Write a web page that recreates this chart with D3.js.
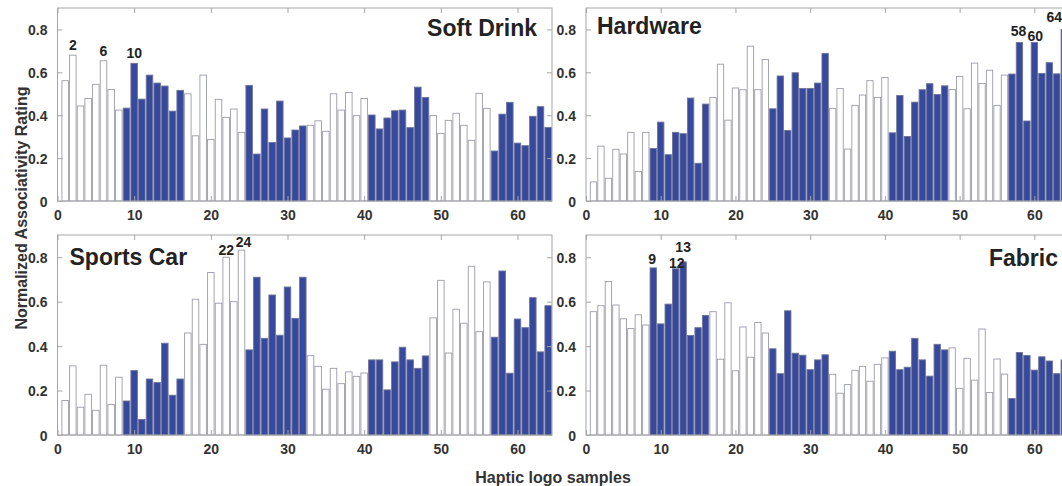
<!DOCTYPE html>
<html>
<head>
<meta charset="utf-8">
<script src="https://cdn.jsdelivr.net/npm/d3@7"></script>
<style>
  body { margin: 0; background: #fff; }
  svg text { font-family: "Liberation Sans", Arial, sans-serif; font-weight: bold; }
</style>
</head>
<body>
<svg width="1062" height="486"></svg>
<script>
// haptic logo sample ids 1..64
var samples = d3.range(1, 65);

var softDrink = [0.561, 0.680, 0.443, 0.478, 0.544, 0.654, 0.520, 0.424,
                 0.433, 0.642, 0.475, 0.587, 0.550, 0.536, 0.419, 0.516,
                 0.500, 0.304, 0.587, 0.287, 0.474, 0.390, 0.429, 0.320,
                 0.539, 0.219, 0.429, 0.273, 0.466, 0.294, 0.331, 0.350,
                 0.353, 0.374, 0.325, 0.500, 0.424, 0.506, 0.398, 0.478,
                 0.401, 0.336, 0.387, 0.421, 0.424, 0.342, 0.531, 0.483,
                 0.399, 0.315, 0.376, 0.409, 0.353, 0.283, 0.502, 0.432,
                 0.233, 0.405, 0.460, 0.270, 0.258, 0.395, 0.440, 0.343];

var hardware = [0.089, 0.256, 0.106, 0.241, 0.219, 0.320, 0.138, 0.320,
                0.245, 0.368, 0.216, 0.320, 0.314, 0.480, 0.176, 0.452,
                0.483, 0.638, 0.377, 0.527, 0.519, 0.722, 0.519, 0.660,
                0.430, 0.583, 0.329, 0.598, 0.525, 0.525, 0.550, 0.688,
                0.432, 0.525, 0.242, 0.446, 0.494, 0.561, 0.483, 0.576,
                0.318, 0.492, 0.301, 0.461, 0.519, 0.547, 0.497, 0.537,
                0.520, 0.581, 0.430, 0.643, 0.548, 0.610, 0.446, 0.587,
                0.592, 0.739, 0.373, 0.739, 0.595, 0.645, 0.593, 0.800];

var sportsCar = [0.155, 0.311, 0.125, 0.183, 0.111, 0.314, 0.137, 0.260,
                 0.153, 0.290, 0.070, 0.252, 0.236, 0.413, 0.179, 0.252,
                 0.459, 0.611, 0.408, 0.731, 0.593, 0.800, 0.600, 0.832,
                 0.383, 0.710, 0.435, 0.630, 0.449, 0.666, 0.525, 0.710,
                 0.357, 0.309, 0.206, 0.300, 0.231, 0.284, 0.264, 0.279,
                 0.338, 0.338, 0.203, 0.329, 0.395, 0.338, 0.300, 0.356,
                 0.527, 0.696, 0.369, 0.566, 0.503, 0.759, 0.465, 0.689,
                 0.440, 0.738, 0.278, 0.522, 0.483, 0.618, 0.374, 0.582];

var fabric = [0.555, 0.582, 0.691, 0.585, 0.523, 0.479, 0.541, 0.495,
              0.752, 0.500, 0.589, 0.748, 0.779, 0.448, 0.483, 0.538,
              0.555, 0.341, 0.595, 0.289, 0.486, 0.350, 0.506, 0.459,
              0.388, 0.276, 0.559, 0.368, 0.359, 0.294, 0.338, 0.361,
              0.273, 0.188, 0.227, 0.291, 0.309, 0.242, 0.318, 0.347,
              0.377, 0.294, 0.305, 0.435, 0.338, 0.265, 0.408, 0.383,
              0.392, 0.209, 0.345, 0.247, 0.477, 0.191, 0.342, 0.274,
              0.164, 0.371, 0.358, 0.292, 0.352, 0.333, 0.276, 0.338];

var xTicks = [0, 10, 20, 30, 40, 50, 60];
var yTicks = [0, 0.2, 0.4, 0.6, 0.8];
var yTickLabels = ["0", "0.2", "0.4", "0.6", "0.8"];

// highlighted samples written above the bars
var softLabels = [2, 6, 10];
var hardwareLabels = [58, 60, 64];
var sportsLabels = [22, 24];
var fabricLabels = [9, 12, 13];

// small hand nudges for the bar labels [dx, dy]
var nudge = {
  "Hardware58": [-1, -7], "Hardware60": [1, -2], "Hardware64": [-10, -7],
  "Sports Car22": [0, -2], "Sports Car24": [2, -3],
  "Fabric9": [-1, -4], "Fabric12": [1, -1], "Fabric13": [0, -10]
};

var blue = "#37499d";

var panels = [
  {title: "Soft Drink", values: softDrink, labels: softLabels,
   x0: 57.5, x1: 552, y0: 201, y1: 8, tAnchor: "end", tx: -15, ty: 28},
  {title: "Hardware", values: hardware, labels: hardwareLabels,
   x0: 586, x1: 1068, y0: 201, y1: 8, tAnchor: "start", tx: 11, ty: 26},
  {title: "Sports Car", values: sportsCar, labels: sportsLabels,
   x0: 57.5, x1: 552, y0: 435, y1: 235, tAnchor: "start", tx: 12, ty: 30},
  {title: "Fabric", values: fabric, labels: fabricLabels,
   x0: 586, x1: 1068, y0: 435, y1: 235, tAnchor: "end", tx: -10, ty: 31}
];

var svg = d3.select("svg");

panels.forEach(function(p) {
  var x = d3.scaleLinear().domain([0, 64.5]).range([p.x0, p.x1]);
  var y = d3.scaleLinear().domain([0, 0.9]).range([p.y0, p.y1]);
  var bw = (x(1) - x(0)) * 0.85;
  var g = svg.append("g");

  g.selectAll("rect.bar")
    .data(samples)
    .enter()
    .append("rect")
    .attr("class", "bar")
    .attr("x", function(d) { return x(d) - bw / 2; })
    .attr("y", function(d) { return y(p.values[d - 1]); })
    .attr("width", bw)
    .attr("height", function(d) { return y(0) - y(p.values[d - 1]); })
    .attr("fill", function(d) { return Math.floor((d - 1) / 8) % 2 ? blue : "#fff"; })
    .attr("stroke", function(d) { return Math.floor((d - 1) / 8) % 2 ? "#6f7598" : "#9a9cab"; })
    .attr("stroke-width", 0.9);

  // box
  g.append("rect")
    .attr("x", p.x0).attr("y", p.y1)
    .attr("width", p.x1 - p.x0).attr("height", p.y0 - p.y1)
    .attr("fill", "none").attr("stroke", "#a5a5a5").attr("stroke-width", 1);

  var bottomAxis = d3.axisBottom(x).tickValues(xTicks).tickSizeInner(-5).tickSizeOuter(0).tickPadding(9);
  var topAxis = d3.axisTop(x).tickValues(xTicks).tickSizeInner(-5).tickSizeOuter(0).tickFormat("");
  var leftAxis = d3.axisLeft(y).tickValues(yTicks).tickSizeInner(-5).tickSizeOuter(0).tickPadding(10)
    .tickFormat(function(d, i) { return yTickLabels[i]; });
  var rightAxis = d3.axisRight(y).tickValues(yTicks).tickSizeInner(-5).tickSizeOuter(0).tickFormat("");

  var gb = g.append("g").attr("transform", "translate(0," + p.y0 + ")").call(bottomAxis);
  var gt = g.append("g").attr("transform", "translate(0," + p.y1 + ")").call(topAxis);
  var gl = g.append("g").attr("transform", "translate(" + p.x0 + ",0)").call(leftAxis);
  var gr = g.append("g").attr("transform", "translate(" + p.x1 + ",0)").call(rightAxis);

  [gb, gt, gl, gr].forEach(function(a) {
    a.select(".domain").remove();
    a.selectAll(".tick line").attr("stroke", "#a5a5a5");
    a.selectAll(".tick text").attr("fill", "#333").style("font-size", "14px")
      .style("font-family", "'Liberation Sans', Arial, sans-serif").style("font-weight", "bold");
  });
  gl.selectAll(".tick text").attr("dy", "0.36em");

  // sample numbers over the highlighted bars
  g.selectAll("text.lab")
    .data(p.labels)
    .enter()
    .append("text")
    .attr("class", "lab")
    .attr("x", function(d) { var n = nudge[p.title + d]; return x(d) + (n ? n[0] : 0); })
    .attr("y", function(d) { var n = nudge[p.title + d]; return y(p.values[d - 1]) + (n ? n[1] : -5); })
    .attr("text-anchor", "middle")
    .attr("fill", "#222")
    .style("font-size", "14px")
    .text(function(d) { return d; });

  g.append("text")
    .attr("x", (p.tAnchor === "end" ? p.x1 : p.x0) + p.tx)
    .attr("y", p.y1 + p.ty)
    .attr("text-anchor", p.tAnchor)
    .attr("fill", "#222")
    .style("font-size", "23px")
    .text(p.title);
});

svg.append("text")
  .attr("transform", "translate(27,208) rotate(-90)")
  .attr("text-anchor", "middle")
  .attr("fill", "#333")
  .style("font-size", "16px")
  .text("Normalized Associativity Rating");

svg.append("text")
  .attr("x", 553)
  .attr("y", 483)
  .attr("text-anchor", "middle")
  .attr("fill", "#333")
  .style("font-size", "16px")
  .text("Haptic logo samples");
</script>
</body>
</html>
